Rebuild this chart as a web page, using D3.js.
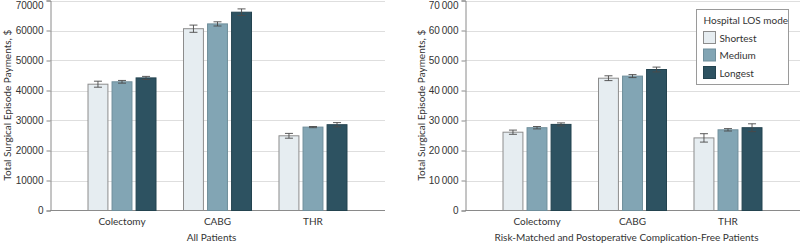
<!DOCTYPE html>
<html>
<head>
<meta charset="utf-8">
<script src="https://cdn.jsdelivr.net/npm/d3@7"></script>
<style>
  body { margin: 0; background: #fff; }
  svg { display: block; font-family: Lato, "Liberation Sans", Arial, sans-serif; }
</style>
</head>
<body>
<div id="chart"></div>
<script>
// categories and modes
const categories = ["Colectomy", "CABG", "THR"];
const modes = ["Shortest", "Medium", "Longest"];
const yTicks = [0, 10000, 20000, 30000, 40000, 50000, 60000, 70000];

// All patients (rows follow modes)
const allMeans = [
  [42100, 60600, 24900],
  [42900, 62200, 27800],
  [44200, 66100, 28600]
];
const allErr = [
  [1000, 1200, 800],
  [450, 700, 200],
  [500, 1100, 700]
];

// Risk-matched and complication-free patients
const rmMeans = [
  [26100, 44100, 24200],
  [27600, 44800, 26900],
  [28700, 47000, 27600]
];
const rmErr = [
  [700, 800, 1400],
  [400, 500, 400],
  [500, 800, 1300]
];

const colors = ["#e6edf1", "#82a5b4", "#2d5261"];
const strokes = ["#8c8c8c", "#6f8e9b", "#23434f"];

const width = 800, height = 244;
const svg = d3.select("#chart").append("svg")
  .attr("width", width).attr("height", height);

function drawPanel(left, means, errs, title, spaced, legend) {
  let plotW = 335;
  let plotTop = 0.5, plotBottom = 210.5;
  let g = svg.append("g").attr("transform", `translate(${left},0)`);

  let yScale = d3.scaleLinear().domain([0, 70000]).range([plotBottom, plotTop]);
  let xScale = d3.scalePoint().domain(categories).range([0, plotW]).padding(0.754);
  let inner = d3.scaleBand().domain(modes).range([-34.5, 34.5]).paddingInner(0.13);

  // gridlines
  g.append("g").selectAll("line").data(yTicks.slice(1)).enter().append("line")
    .attr("x1", 0).attr("x2", plotW)
    .attr("y1", d => Math.round(yScale(d)) + 0.5).attr("y2", d => Math.round(yScale(d)) + 0.5)
    .attr("stroke", "#dedede").attr("stroke-width", 1);

  let fmt = spaced ? (d => d3.format(",")(d).replace(/,/g, "\u2009")) : d3.format("d");
  let yAxis = d3.axisLeft(yScale).tickValues(yTicks).tickSize(4).tickPadding(3).tickFormat(fmt);
  let ya = g.append("g").attr("class", "yAxis").attr("transform", "translate(0.5,0)").call(yAxis);
  ya.select(".domain").attr("stroke", "#8a8a8a");
  ya.selectAll(".tick line").attr("stroke", "#8a8a8a");
  ya.selectAll("text").attr("fill", "#333").style("font-size", "10px");
  // keep the top label inside the picture
  ya.selectAll("text").filter(d => d === 70000).attr("dy", "0.75em");

  // baseline
  g.append("line").attr("x1", 0).attr("x2", plotW)
    .attr("y1", plotBottom).attr("y2", plotBottom)
    .attr("stroke", "#8a8a8a");

  // bars
  modes.forEach((m, i) => {
    let mg = g.append("g");
    mg.selectAll("rect").data(categories).enter().append("rect")
      .attr("x", (d) => xScale(d) + inner(m) + 0.5)
      .attr("y", (d, j) => yScale(means[i][j]))
      .attr("width", inner.bandwidth() - 1)
      .attr("height", (d, j) => plotBottom - yScale(means[i][j]))
      .attr("fill", colors[i])
      .attr("stroke", strokes[i]);

    // error bars
    categories.forEach((c, j) => {
      let cx = xScale(c) + inner(m) + inner.bandwidth() / 2;
      let y1 = yScale(means[i][j] - errs[i][j]);
      let y2 = yScale(means[i][j] + errs[i][j]);
      mg.append("line").attr("x1", cx).attr("x2", cx).attr("y1", y1).attr("y2", y2)
        .attr("stroke", "#4a4a4a").attr("stroke-width", 0.9);
      [y1, y2].forEach(yy => {
        mg.append("line").attr("x1", cx - 4).attr("x2", cx + 4).attr("y1", yy).attr("y2", yy)
          .attr("stroke", "#4a4a4a").attr("stroke-width", 0.9);
      });
    });
  });

  // x labels
  g.append("g").selectAll("text").data(categories).enter().append("text")
    .attr("x", d => xScale(d))
    .attr("y", 225)
    .attr("text-anchor", "middle")
    .attr("fill", "#333")
    .style("font-size", "10px")
    .text(d => d);

  g.append("text")
    .attr("x", plotW / 2 - 6)
    .attr("y", 241)
    .attr("text-anchor", "middle")
    .attr("fill", "#333")
    .style("font-size", "10px")
    .text(title);

  g.append("text")
    .attr("transform", "rotate(-90)")
    .attr("x", -(plotBottom) / 2)
    .attr("y", spaced ? -40 : -39)
    .attr("text-anchor", "middle")
    .attr("fill", "#333")
    .style("font-size", "10px")
    .text("Total Surgical Episode Payments, $");

  if (legend) {
    let lg = g.append("g").attr("transform", `translate(${231.5},${9.5})`);
    lg.append("rect").attr("width", 92).attr("height", 75)
      .attr("fill", "#fff").attr("stroke", "#9a9a9a");
    lg.append("text").attr("x", 7).attr("y", 14)
      .attr("fill", "#333").style("font-size", "10px").text("Hospital LOS mode");
    modes.forEach((m, i) => {
      lg.append("rect").attr("x", 7).attr("y", 22 + i * 17.5)
        .attr("width", 12).attr("height", 12)
        .attr("fill", colors[i]).attr("stroke", strokes[i]);
      lg.append("text").attr("x", 23).attr("y", 32 + i * 17.5)
        .attr("fill", "#333").style("font-size", "10px").text(m);
    });
  }
}

drawPanel(50, allMeans, allErr, "All Patients", false, false);
drawPanel(465, rmMeans, rmErr, "Risk-Matched and Postoperative Complication-Free Patients", true, true);
</script>
</body>
</html>
